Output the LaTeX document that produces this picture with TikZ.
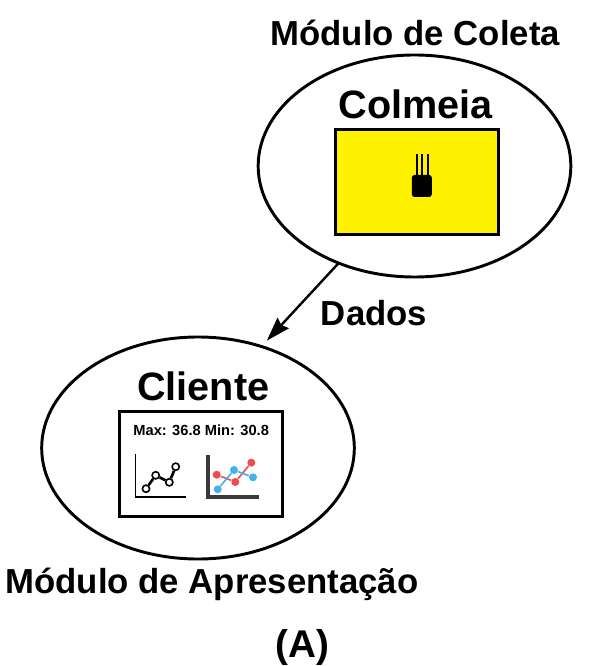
\documentclass[tikz,border=0pt]{standalone}
\usepackage{fontspec}
\setmainfont{Liberation Sans}
\usetikzlibrary{positioning,shapes.geometric,arrows.meta}

\definecolor{hiveyellow}{HTML}{FFF200}
\definecolor{axisgray}{HTML}{3A3A3A}
\definecolor{seriesred}{HTML}{EE4B4F}
\definecolor{seriesblue}{HTML}{45B0EA}

\tikzset{
    module/.style={ellipse, draw, line width=2.2pt, minimum width=234.5pt, minimum height=166.5pt, inner sep=0pt, outer sep=0pt},
    panel/.style={draw, line width=2.25pt, minimum width=122pt, minimum height=78.5pt, inner sep=0pt},
    caption/.style={inner sep=0pt, font=\fontsize{26.05}{30}\selectfont\bfseries},
    heading/.style={inner sep=0pt, font=\fontsize{29.7}{34}\selectfont\bfseries},
    readout/.style={inner sep=0pt, font=\fontsize{11}{13}\selectfont\bfseries},
    openpt/.style={circle, draw, fill=white, line width=1.2pt, minimum size=5.4pt, inner sep=0pt},
    redpt/.style={circle, fill=seriesred, minimum size=6pt, inner sep=0pt},
    bluept/.style={circle, fill=seriesblue, minimum size=6pt, inner sep=0pt},
    flow/.style={-{Stealth[length=18pt,width=11.5pt,inset=2pt]}, line width=1.8pt},
}

\begin{document}
\begin{tikzpicture}[x=0.75pt, y=-0.75pt]
    \useasboundingbox (0,0) rectangle (600,666);

    \node[module]                       (colmeia) at (414.5,166) {};
    \node[panel, fill=hiveyellow]       (hivebox) at (417,182)   {};
    \node[heading, above=7pt of hivebox, xshift=-1pt]   (colmeiatxt) {Colmeia};
    \node[caption, above=7pt of colmeia.north, xshift=0.5pt] (coleta) {Módulo de Coleta};

    \node[module]                       (cliente) at (198,448)   {};
    \node[panel]                        (clientbox) at (201.2,464) {};
    \node[heading, above=6.5pt of clientbox, xshift=1.5pt]    (clientetxt) {Cliente};
    \node[readout, below=11pt of clientbox.north]             (minmax)     {Max: 36.8 Min: 30.8};
    \node[caption, below=6.5pt of cliente.south, xshift=10.5pt] (apresenta)  {Módulo de Apresentação};
    \node[caption, below=21pt of apresenta, xshift=68pt, font=\fontsize{29}{33}\selectfont\bfseries] (fig) {(A)};

    \draw[flow, shorten >=6pt] (colmeia.232) -- coordinate (mid) (cliente.58.5);
    \node[caption, right=15.5pt of mid, yshift=-6.5pt] (dados) {Dados};

    % sensor
    \node[fill=black, rounded corners=2pt, minimum width=15pt, minimum height=16.5pt, inner sep=0pt] (chip) at (421.8,186) {};
    \foreach \i/\dx in {a/-5, b/0, c/5.7} {
        \coordinate (pin\i) at ([xshift=\dx*0.75pt]chip.north);
        \draw[line width=1.5pt] (pin\i) -- ++(0,-21);
    }

    % line chart
    \coordinate (ltop) at (135.3,454);
    \coordinate (lend) at (185.7,497);
    \draw[line width=1pt] (ltop) |- (lend);
    \foreach \name/\pos in {la/{146,488.7}, lb/{155.7,475.3}, lc/{169.3,482.3}, ld/{175.7,466.7}}
        \node[openpt] (\name) at (\pos) {};
    \draw[line width=2pt] (la) -- (lb) -- (lc) -- (ld);

    % two series chart
    \coordinate (rtop) at (208.3,455);
    \coordinate (rend) at (258.7,497);
    \draw[axisgray, line width=3pt] (rtop) |- (rend);
    \foreach \name/\pos in {ra/{216.7,474.7}, rb/{235.3,482}, rc/{251.3,462.7}}
        \node[redpt] (\name) at (\pos) {};
    \foreach \name/\pos in {ba/{217.7,489.3}, bb/{234,470}, bc/{253,477.3}}
        \node[bluept] (\name) at (\pos) {};
    \draw[seriesred, line width=1.2pt] (ra) -- (rb) -- (rc);
    \draw[seriesblue, line width=1.2pt] (ba) -- (bb) -- (bc);
\end{tikzpicture}
\end{document}
